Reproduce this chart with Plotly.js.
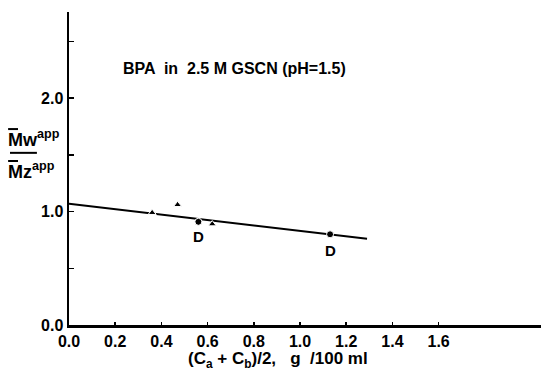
<!DOCTYPE html>
<html>
<head>
<meta charset="utf-8">
<script src="https://cdn.plot.ly/plotly-3.0.1.min.js"></script>
<style>html,body{margin:0;padding:0;background:#fff;}#chart{width:541px;height:371px;}</style>
</head>
<body>
<div id="chart"></div>
<script>
// Data
const triX = [0.36, 0.47, 0.62];
const triY = [0.99, 1.06, 0.89];
const circX = [0.56, 1.13];
const circY = [0.91, 0.80];
const circLabels = ["D", "D"];
const fitX = [0.0, 1.29];
const fitY = [1.07, 0.76];
const xTickVals = [0.0, 0.2, 0.4, 0.6, 0.8, 1.0, 1.2, 1.4, 1.6];
const xTickText = ["0.0", "0.2", "0.4", "0.6", "0.8", "1.0", "1.2", "1.4", "1.6"];
const yTickVals = [0.0, 1.0, 2.0];
const yTickText = ["0.0", "1.0", "2.0"];
const yMinorVals = [0.5, 1.5, 2.5];

const FONT = "Liberation Sans, Arial, Helvetica, sans-serif";
const b = s => "<b>" + s + "</b>";

const traces = [
  {x: fitX, y: fitY, mode: "lines", line: {color: "#000", width: 2}, hoverinfo: "skip", showlegend: false},
  {x: triX, y: triY, mode: "markers", marker: {symbol: "triangle-up", size: 7, color: "#000", line: {color: "#fff", width: 1}}, showlegend: false},
  {x: circX, y: circY, mode: "markers", marker: {symbol: "circle", size: 7, color: "#000", line: {color: "#fff", width: 1}}, showlegend: false}
];

const annotations = [
  {text: b("BPA  in  2.5 M GSCN (pH=1.5)"), xref: "paper", yref: "paper", x: 0.35, y: 0.818, xanchor: "center", yanchor: "middle", showarrow: false,
   font: {family: FONT, size: 16, color: "#000"}},
  {text: b("(C<sub>a</sub> + C<sub>b</sub>)/2,   g  /100 ml"), xref: "paper", yref: "paper", x: 0.443, y: -0.112, xanchor: "center", yanchor: "middle", showarrow: false,
   font: {family: FONT, size: 17, color: "#000"}},
  {text: b("Mw<sup>app</sup>"), xref: "paper", yref: "paper", x: -0.133, y: 0.595, xanchor: "left", yanchor: "middle", showarrow: false,
   font: {family: FONT, size: 18, color: "#000"}},
  {text: b("Mz<sup>app</sup>"), xref: "paper", yref: "paper", x: -0.133, y: 0.495, xanchor: "left", yanchor: "middle", showarrow: false,
   font: {family: FONT, size: 18, color: "#000"}}
];
circX.forEach((cx, i) => {
  annotations.push({text: b(circLabels[i]), x: cx, y: circY[i], xref: "x", yref: "y", showarrow: false, yshift: i === 0 ? -15 : -16,
    xanchor: "center", yanchor: "middle", font: {family: FONT, size: 15, color: "#000"}});
});

const shapes = [
  {type: "line", xref: "paper", yref: "paper", x0: -0.125, x1: -0.068, y0: 0.55, y1: 0.55, line: {color: "#000", width: 2}},
  {type: "line", xref: "paper", yref: "paper", x0: -0.129, x1: -0.108, y0: 0.626, y1: 0.626, line: {color: "#000", width: 2}},
  {type: "line", xref: "paper", yref: "paper", x0: -0.129, x1: -0.108, y0: 0.524, y1: 0.524, line: {color: "#000", width: 2}}
];

const layout = {
  width: 541, height: 371,
  margin: {l: 69, r: 0, t: 12, b: 46, pad: 0},
  paper_bgcolor: "#fff", plot_bgcolor: "#fff",
  showlegend: false,
  xaxis: {range: [0, 2.043], showgrid: false, zeroline: false, showline: true, linecolor: "#000", linewidth: 2.5,
    ticks: "inside", ticklen: 3, tickwidth: 1.5, tickcolor: "#000", tickvals: xTickVals, ticktext: xTickText.map(b),
    tickfont: {family: FONT, size: 16, color: "#000"}, fixedrange: true},
  yaxis: {range: [0, 2.76], showgrid: false, zeroline: false, showline: true, linecolor: "#000", linewidth: 2.5,
    ticks: "inside", ticklen: 5, tickwidth: 1.5, tickcolor: "#000", tickvals: yTickVals, ticktext: yTickText.map(b),
    minor: {tickvals: yMinorVals, ticks: "inside", ticklen: 5, tickwidth: 1.5, tickcolor: "#000", showgrid: false},
    tickfont: {family: FONT, size: 16, color: "#000"}, fixedrange: true},
  annotations: annotations,
  shapes: shapes
};

Plotly.newPlot("chart", traces, layout, {displayModeBar: false, staticPlot: true});
</script>
</body>
</html>
